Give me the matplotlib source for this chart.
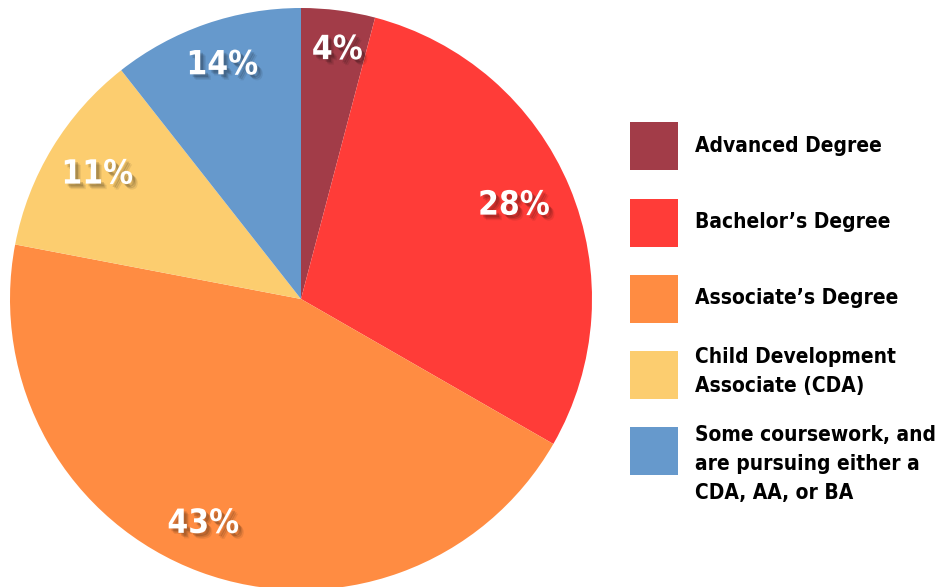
import matplotlib
matplotlib.use("Agg")
import matplotlib.pyplot as plt
import matplotlib.patheffects as pe
from matplotlib.patches import Rectangle
import numpy as np

categories = ["Advanced Degree", "Bachelor\u2019s Degree", "Associate\u2019s Degree",
              "Child Development\nAssociate (CDA)",
              "Some coursework, and\nare pursuing either a\nCDA, AA, or BA"]
# slice sizes as drawn in the picture
slice_sizes = [4.1, 29.2, 44.7, 11.4, 10.6]
# percentages printed on the slices
slice_labels = ["4%", "28%", "43%", "11%", "14%"]
colors = ["#A23C48", "#FF3C38", "#FF8C42", "#FCCD6F", "#6699CC"]

# label placement (style): radial distance and small angular nudge (deg)
label_r = [0.866, 0.80, 0.841, 0.821, 0.849]
label_nudge = [-0.9, 1.1, -3.2, -0.2, -0.5]

W, H = 942, 587
fig = plt.figure(figsize=(W / 100, H / 100), dpi=100)

FONT = dict(family="DejaVu Sans", fontstretch="condensed", fontweight="bold")

# pie axes: centre (301,299), radius 291 px
cx, cy, R = 301, 299, 291
ax = fig.add_axes([(cx - R) / W, (H - cy - R) / H, 2 * R / W, 2 * R / H])
wedges, _ = ax.pie(slice_sizes, colors=colors, startangle=90, counterclock=False,
                   radius=1, wedgeprops=dict(linewidth=0))
shadow = [pe.SimplePatchShadow(offset=(o, -o), shadow_rgbFace="black", alpha=a)
          for o, a in [(4, 0.08), (3, 0.12), (2, 0.15)]] + [pe.Normal()]
for w, lab, r, nd in zip(wedges, slice_labels, label_r, label_nudge):
    ang = np.deg2rad((w.theta1 + w.theta2) / 2 + nd)
    ax.text(r * np.cos(ang), r * np.sin(ang), lab, ha="center", va="center",
            color="white", fontsize=24, **FONT, path_effects=shadow)
ax.set_xlim(-1, 1)
ax.set_ylim(-1, 1)
ax.set_aspect("equal")
ax.axis("off")

# legend drawn in pixel coordinates
lg = fig.add_axes([0, 0, 1, 1])
lg.set_xlim(0, W)
lg.set_ylim(H, 0)
lg.axis("off")
box_tops = [122, 199, 275, 351, 427]
text_tops = [136, 212, 288, 347, 425]
for top, ttop, col, lab in zip(box_tops, text_tops, colors, categories):
    lg.add_patch(Rectangle((630, top), 48, 48, facecolor=col, edgecolor="none"))
    lg.text(695, ttop, lab, ha="left", va="top", fontsize=15, color="black",
            linespacing=1.55, **FONT)

fig.savefig("out.png", dpi=100)
